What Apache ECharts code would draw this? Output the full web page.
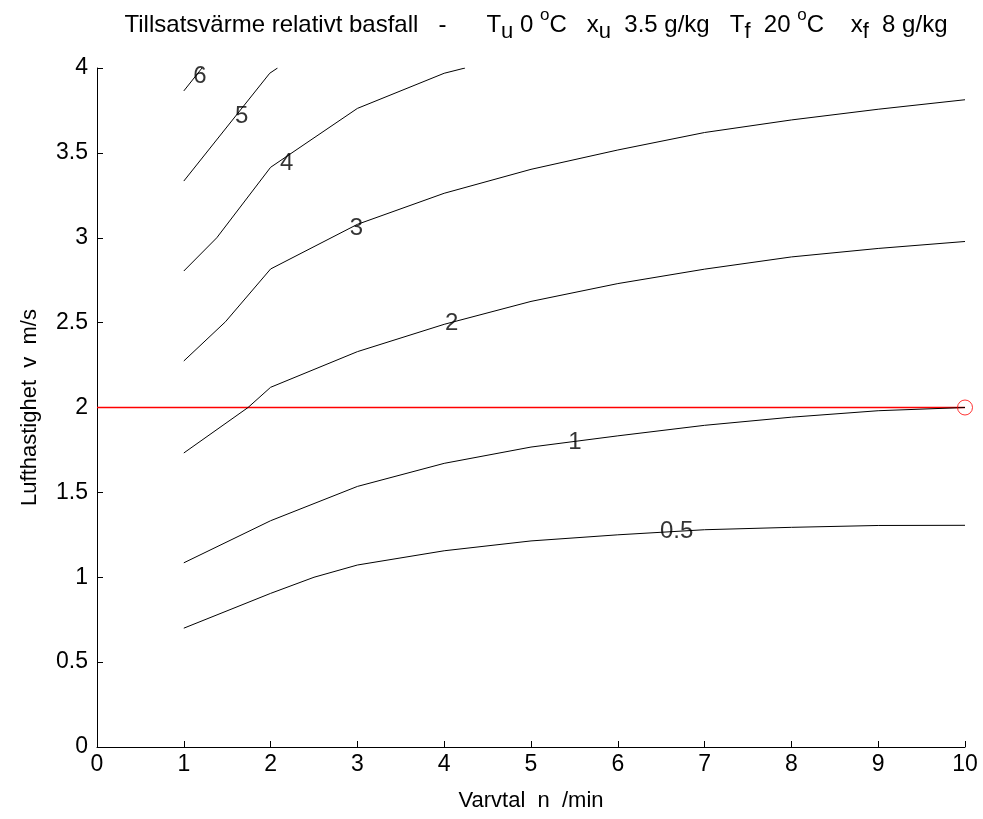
<!DOCTYPE html>
<html>
<head>
<meta charset="utf-8">
<script src="https://cdn.jsdelivr.net/npm/echarts@6/dist/echarts.min.js"></script>
<style>html,body{margin:0;padding:0;background:#fff}#c{width:983px;height:819px}</style>
</head>
<body>
<div id="c"></div>
<script>
// Contour level curves (x = Varvtal n /min, y = Lufthastighet v m/s)
const x05 = [1, 2, 2.5, 3, 4, 5, 6, 7, 8, 9, 10];
const y05 = [0.70, 0.905, 1.0, 1.072, 1.156, 1.214, 1.25, 1.28, 1.294, 1.305, 1.306];
const x1 = [1, 2, 3, 4, 5, 6, 7, 8, 9, 10];
const y1 = [1.085, 1.333, 1.535, 1.671, 1.767, 1.833, 1.895, 1.943, 1.981, 2.0];
const x2 = [1, 1.74, 2, 3, 4, 5, 6, 7, 8, 9, 10];
const y2 = [1.732, 2.0, 2.119, 2.329, 2.49, 2.625, 2.73, 2.815, 2.887, 2.937, 2.978];
const x3 = [1, 1.48, 2, 3, 4, 5, 6, 7, 8, 9, 10];
const y3 = [2.274, 2.505, 2.816, 3.079, 3.262, 3.403, 3.517, 3.62, 3.694, 3.757, 3.813];
const x4 = [1, 1.38, 2, 3, 4, 4.24];
const y4 = [2.804, 3.0, 3.415, 3.762, 3.969, 4.0];
const x5 = [1, 1.99, 2.08];
const y5 = [3.334, 3.969, 4.0];
const x6 = [1, 1.21];
const y6 = [3.865, 4.0];
// Contour labels
const labelText = ['6', '5', '4', '3', '2', '1', '0.5'];
const labelX = [1.187, 1.667, 2.185, 2.99, 4.086, 5.507, 6.678];
const labelY = [3.949, 3.717, 3.439, 3.056, 2.496, 1.793, 1.268];
// Reference line / operating point
const refX = [0, 10];
const refY = [2, 2];
const pointX = [10];
const pointY = [2];

const pairs = (xs, ys) => xs.map((x, i) => [x, ys[i]]);
const curves = [[x05, y05], [x1, y1], [x2, y2], [x3, y3], [x4, y4], [x5, y5], [x6, y6]];
const FONT = 'Liberation Sans, Arial, sans-serif';

const chart = echarts.init(document.getElementById('c'), null, {renderer: 'canvas'});
const series = [];
series.push({
  type: 'line', data: pairs(refX, refY), symbol: 'none', silent: true,
  lineStyle: {color: '#ff0000', width: 1.6}, z: 1, animation: false
});
curves.forEach(c => series.push({
  type: 'line', data: pairs(c[0], c[1]), symbol: 'none', silent: true,
  lineStyle: {color: '#000000', width: 1}, z: 2, animation: false
}));
series.push({
  type: 'scatter', data: labelX.map((x, i) => ({value: [x, labelY[i]], name: labelText[i]})),
  symbolSize: 1, itemStyle: {color: 'rgba(0,0,0,0)'}, z: 5, animation: false,
  label: {show: true, position: 'inside', formatter: p => p.name, color: '#000000',
          fontSize: 24, fontFamily: FONT}
});
series.push({
  type: 'scatter', data: pairs(pointX, pointY), symbol: 'circle', symbolSize: 15,
  itemStyle: {color: 'rgba(0,0,0,0)', borderColor: '#ff0000', borderWidth: 1},
  z: 11, animation: false, clip: false
});

const base = {fontFamily: FONT, color: '#000', fontWeight: 'normal'};
const norm = Object.assign({fontSize: 24, lineHeight: 36}, base);
const sub = Object.assign({fontSize: 22, lineHeight: 14, verticalAlign: 'bottom'}, base);
const sup = Object.assign({fontSize: 17, lineHeight: 14, verticalAlign: 'top'}, base);

chart.setOption({
  backgroundColor: '#fff',
  animation: false,
  title: {
    left: 531, textAlign: 'center', top: 2,
    text: '{n|Tillsatsvärme relativt basfall   -      T}{s|u}{n| 0 }{p|o}{n|C   x}{s|u}{n|  3.5 g/kg   T}{s|f}{n|  20 }{p|o}{n|C    x}{s|f}{n|  8 g/kg}',
    textStyle: {fontWeight: 'normal', rich: {n: norm, s: sub, p: sup}}
  },
  grid: {left: 97, right: 18, top: 68, bottom: 72, containLabel: false},
  xAxis: {
    type: 'value', min: 0, max: 10, interval: 1,
    name: 'Varvtal  n  /min', nameLocation: 'middle', nameGap: 43,
    nameTextStyle: {fontSize: 22, fontFamily: FONT, color: '#000'},
    axisLine: {lineStyle: {color: '#000'}},
    axisTick: {inside: true, length: 6, lineStyle: {color: '#000'}},
    axisLabel: {fontSize: 23, fontFamily: FONT, color: '#000', margin: 6},
    splitLine: {show: false}
  },
  yAxis: {
    type: 'value', min: 0, max: 4, interval: 0.5,
    name: 'Lufthastighet  v  m/s', nameLocation: 'middle', nameGap: 56,
    nameTextStyle: {fontSize: 22, fontFamily: FONT, color: '#000'},
    axisLine: {show: true, lineStyle: {color: '#000'}},
    axisTick: {show: true, inside: true, length: 6, lineStyle: {color: '#000'}},
    axisLabel: {fontSize: 23, fontFamily: FONT, color: '#000', margin: 9},
    splitLine: {show: false}
  },
  series: series
});
</script>
</body>
</html>
